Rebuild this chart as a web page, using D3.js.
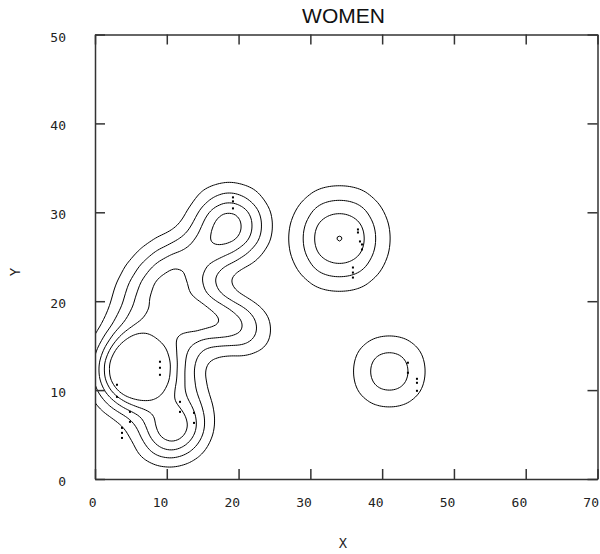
<!DOCTYPE html>
<html>
<head>
<meta charset="utf-8">
<script src="https://cdn.jsdelivr.net/npm/d3@7"></script>
<style>
  body { margin: 0; background: #fff; }
  .axis path, .axis line { stroke: #333; stroke-width: 1.5; }
  .axis text { font-family: 'DejaVu Sans Mono', monospace; font-size: 13px; fill: #222; }
  .contour { fill: none; stroke: #000; stroke-width: 1; }
</style>
</head>
<body>
<div class="graph"><svg></svg></div>
<script>
// axis ticks
const xTickValues = [0, 10, 20, 30, 40, 50, 60, 70]
const yTickValues = [0, 10, 20, 30, 40, 50]

// contour levels, in multiples of the peak density of one point at bandwidth 24
const levels = [1, 2, 3, 4, 5]

// observations [x, y, weight] of the left group
const ridgePoints = [
  [5.0, 17.1, 0.6], [7.0, 18.7, 0.6], [9.0, 20.3, 0.6], [11.0, 21.9, 0.6], [13.0, 23.5, 0.6], [15.0, 25.1, 0.6],
  [4.64, 20.61, 0.25], [6.64, 22.21, 0.5], [8.64, 23.81, 0.5], [10.64, 25.41, 0.5],
  [9.36, 16.79, 0.18], [11.36, 18.39, 0.18], [13.36, 19.99, 0.18], [15.36, 21.59, 0.18]
]
const clusterA = [
  [18.7, 28.5, 0.57], [21.76, 28.5, 0.57], [15.64, 28.5, 0.57], [20.23, 30.65, 0.57],
  [17.17, 30.65, 0.57], [20.23, 26.35, 0.57], [17.17, 26.35, 0.57]
]
const clusterB = [
  [3.6, 14.6, 0.54], [5.7, 14.6, 0.54], [7.7, 14.6, 0.54],
  [2.5, 13.0, 0.54], [4.6, 13.0, 0.54], [6.7, 13.0, 0.54], [8.7, 13.0, 0.54],
  [2.5, 11.4, 0.54], [4.6, 11.4, 0.54], [6.7, 11.4, 0.54], [8.7, 11.4, 0.54],
  [3.6, 9.8, 0.54], [5.7, 9.8, 0.54], [7.7, 9.8, 0.54]
]
const lobePoints = [
  [8.8, 4.4, 0.55], [10.8, 4.4, 0.55], [12.6, 5.2, 0.55], [9.8, 6.0, 0.53], [11.8, 6.6, 0.53],
  [6.8, 6.6, 0.3], [13.9, 6.9, 0.3]
]
const armPoints = [
  [12.3, 9.0, 0.35], [12.2, 10.8, 0.35], [12.0, 12.6, 0.35], [11.8, 14.4, 0.35], [11.8, 16.2, 0.35], [12.4, 18.0, 0.4]
]
const rightLobe = [
  [14.0, 18.5, 0.75], [16.5, 17.8, 0.85], [19.0, 17.5, 0.75], [21.0, 17.0, 0.35], [22.0, 16.5, 0.45]
]
// the two groups on the right
const clusterC = [[34.05, 25.95, 2.82], [34.05, 28.15, 2.82]]
const clusterD = [[40.5, 12.1, 1.25], [41.5, 12.1, 1.25]]

// small label marks sitting on the contour lines
const labelDots = [
  [19.22, 31.68], [19.22, 31.23], [19.22, 30.44],
  [36.63, 28.07], [36.63, 27.73], [36.91, 26.72], [37.19, 26.38], [37.19, 25.82],
  [35.93, 23.79], [35.93, 23.22], [35.93, 22.66],
  [43.59, 13.08], [43.59, 11.95], [44.85, 11.27], [44.85, 10.82], [44.85, 9.92],
  [9.05, 13.19], [9.05, 12.51], [9.05, 11.72], [3.06, 10.6], [3.06, 9.24],
  [4.87, 7.55], [4.87, 6.43], [3.76, 5.75], [3.76, 5.19], [3.76, 4.62],
  [11.84, 8.68], [11.84, 7.55], [13.79, 7.44], [13.79, 6.31]
]

const margin = { top: 34.5, right: 2.5, bottom: 75, left: 95 }
const width = 600 - margin.left - margin.right
const height = 554 - margin.top - margin.bottom

const svg = d3.select('.graph').select('svg')
  .attr('width', 600)
  .attr('height', 554)

const g = svg.append('g')
  .attr('transform', 'translate(' + margin.left + ',' + margin.top + ')')

const x = d3.scaleLinear().domain([0, 70]).range([0, width])
const y = d3.scaleLinear().domain([0, 50]).range([height, 0])

function densityFor (bandwidth) {
  return d3.contourDensity()
    .x(d => x(d[0]))
    .y(d => y(d[1]))
    .weight(d => d[2])
    .size([Math.ceil(width), Math.ceil(height)])
    .cellSize(2)
    .bandwidth(bandwidth)
}

// density peak of a single point at bandwidth 24 is the level unit
const unit = densityFor(24).contours([[35, 25, 1]]).max
const thresholds = levels.map(k => k * unit)

const groups = [
  { points: [].concat(ridgePoints, clusterA, clusterB, lobePoints, armPoints, rightLobe), bandwidth: 18 },
  { points: clusterC, bandwidth: 28 },
  { points: clusterD, bandwidth: 24 }
]

svg.append('defs').append('clipPath')
  .attr('id', 'plot-clip')
  .append('rect')
  .attr('width', width)
  .attr('height', height)

const plot = g.append('g').attr('clip-path', 'url(#plot-clip)')

groups.forEach(grp => {
  const contours = densityFor(grp.bandwidth)
    .thresholds(thresholds)(grp.points)
  plot.append('g')
    .selectAll('path')
    .data(contours)
    .join('path')
    .attr('class', 'contour')
    .attr('d', d3.geoPath())
})

plot.append('g')
  .selectAll('rect')
  .data(labelDots)
  .join('rect')
  .attr('x', d => x(d[0]) - 1)
  .attr('y', d => y(d[1]) - 1)
  .attr('width', 2)
  .attr('height', 2)
  .attr('fill', '#000')

// frame and inward ticks
g.append('g')
  .attr('class', 'axis')
  .attr('transform', 'translate(0,' + height + ')')
  .call(d3.axisBottom(x).tickValues(xTickValues).tickSize(-10).tickSizeOuter(0))
  .call(a => a.selectAll('.tick text').attr('text-anchor', 'end').attr('x', 1).attr('y', 28).attr('dy', 0))

g.append('g')
  .attr('class', 'axis')
  .call(d3.axisLeft(y).tickValues(yTickValues).tickSize(-10).tickSizeOuter(0))
  .call(a => a.selectAll('.tick text').attr('x', -29).attr('dy', '0.5em'))

g.append('g')
  .attr('class', 'axis')
  .call(d3.axisTop(x).tickValues(xTickValues).tickSize(-10).tickSizeOuter(0).tickFormat(''))

g.append('g')
  .attr('class', 'axis')
  .attr('transform', 'translate(' + width + ',0)')
  .call(d3.axisRight(y).tickValues(yTickValues).tickSize(-10).tickSizeOuter(0).tickFormat(''))

// titles
svg.append('text')
  .text('WOMEN')
  .attr('x', 343.5)
  .attr('y', 23)
  .attr('text-anchor', 'middle')
  .attr('font-family', "'Liberation Sans', Arial, sans-serif")
  .attr('font-size', 21)
  .attr('fill', '#111')

svg.append('text')
  .text('X')
  .attr('x', 343)
  .attr('y', 548)
  .attr('text-anchor', 'middle')
  .attr('font-family', "'Liberation Mono', monospace")
  .attr('font-size', 14)
  .attr('fill', '#222')

svg.append('text')
  .text('Y')
  .attr('transform', 'translate(15,272) rotate(-90)')
  .attr('text-anchor', 'middle')
  .attr('dy', '0.35em')
  .attr('font-family', "'Liberation Mono', monospace")
  .attr('font-size', 14)
  .attr('fill', '#222')
</script>
</body>
</html>
